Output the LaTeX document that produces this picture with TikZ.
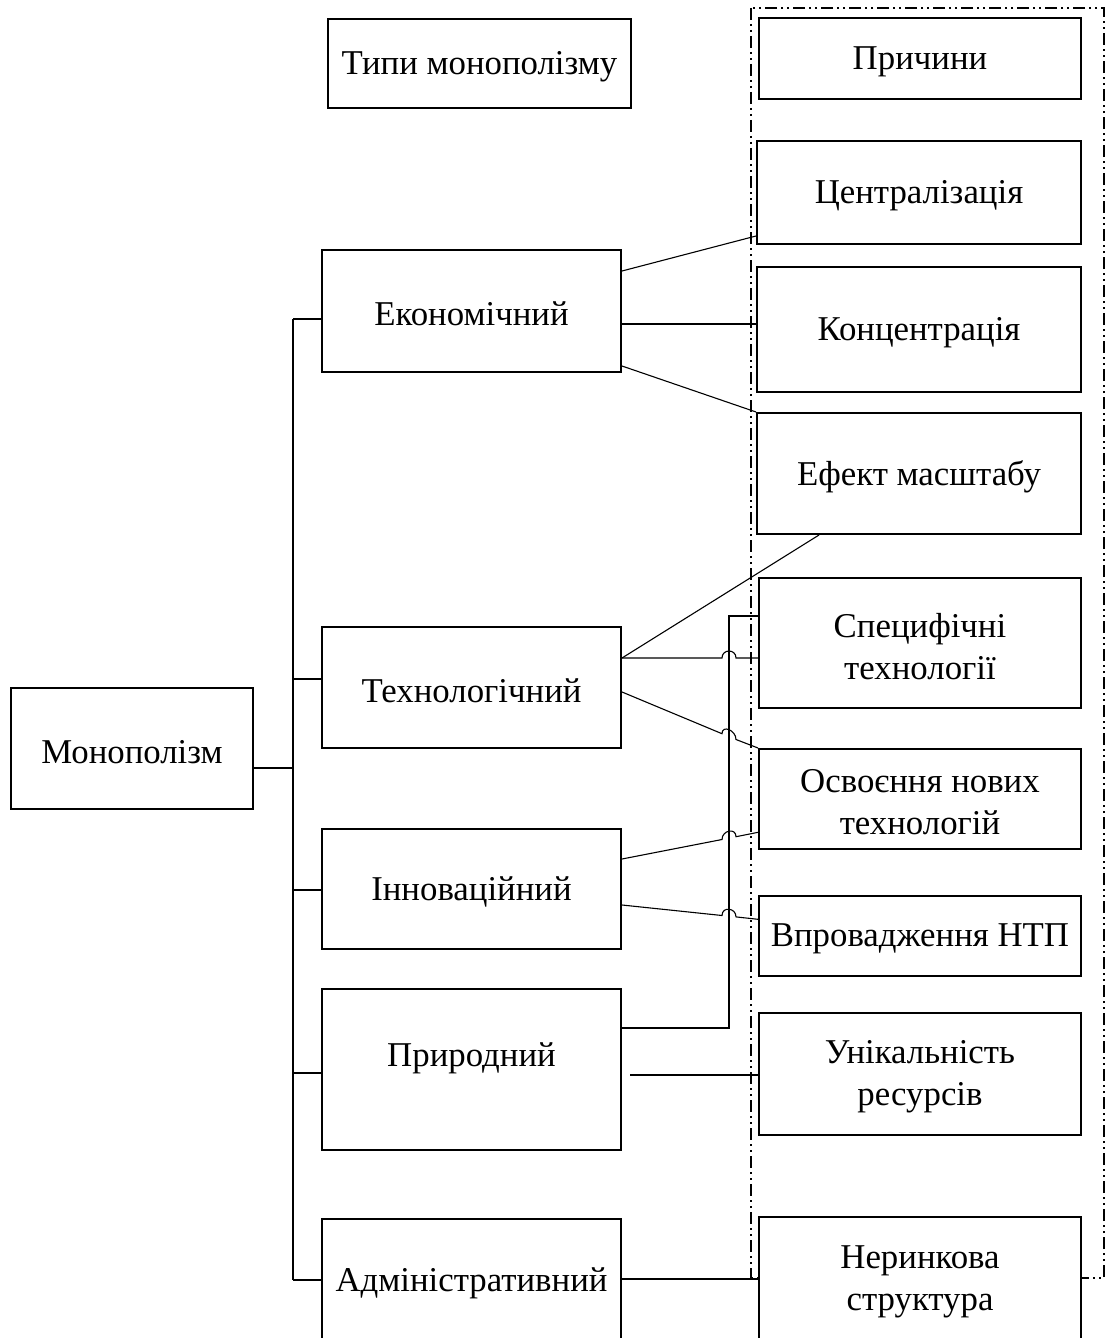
\documentclass[tikz,border=0pt]{standalone}
\usepackage{fontspec}
\setmainfont{Liberation Serif}
\newcommand\boxfont{\fontsize{17.4}{21}\selectfont}
% caption of a box, set a little below its geometric centre
\newcommand\boxtext[2]{\node[lbl] (#1-t) at ([yshift=-1.6pt]#1.center) {#2};}
\begin{document}
\begin{tikzpicture}[x=0.5pt,y=-0.5pt,
  box/.style args={#1x#2}{draw, line width=1pt, fill=white,
    minimum width=#1*0.5pt, minimum height=#2*0.5pt, inner sep=0pt},
  lbl/.style={inner sep=0pt, align=center, font=\boxfont},
  wire/.style={line width=0.55pt},
  bus/.style={line width=0.9pt},
  frame/.style={line width=0.6pt, dash pattern=on 6pt off 2pt on 1pt off 2pt on 1pt off 2pt}]
\useasboundingbox (0,0) rectangle (1105,1338);
\clip (0,0) rectangle (1105,1338);

% group frame around the causes column
\draw[frame] (751,8) rectangle (1104,1278);

% headers
\node[box=303x89] (types) at (479.5,63.5) {};
\node[box=322x81] (prich) at (920,59) {};

% causes
\node[box=324x103] (central)  at (919,192.5) {};
\node[box=324x125] (concentr) at (919,329)   {};
\node[box=324x121] (efekt)    at (919,473.5) {};
\node[box=322x130] (spec)     at (920,643)   {};
\node[box=322x100] (osv)      at (920,799)   {};
\node[box=322x80]  (vprov)    at (920,936)   {};
\node[box=322x122] (unik)     at (920,1074)  {};
\node[box=322x123] (neryn)    at (920,1278.5){};

% types
\node[box=299x122] (eco)  at (471.5,311)    {};
\node[box=299x121] (tech) at (471.5,687.5)  {};
\node[box=299x120] (inno) at (471.5,889)    {};
\node[box=299x161] (prir) at (471.5,1069.5) {};
\node[box=299x122] (adm)  at (471.5,1280)   {};
\node[box=242x121] (mono) at (132,748.5)    {};

% captions
\boxtext{types}{Типи монополізму}
\boxtext{prich}{Причини}
\boxtext{central}{Централізація}
\boxtext{concentr}{Концентрація}
\boxtext{efekt}{Ефект масштабу}
\boxtext{spec}{Специфічні\\технології}
\boxtext{osv}{Освоєння нових\\технологій}
\boxtext{vprov}{Впровадження НТП}
\boxtext{unik}{Унікальність\\ресурсів}
\boxtext{neryn}{Неринкова\\структура}
\boxtext{eco}{Економічний}
\boxtext{tech}{Технологічний}
\boxtext{inno}{Інноваційний}
\node[lbl] (prir-t) at (471.5,1058) {Природний};
\boxtext{adm}{Адміністративний}
\boxtext{mono}{Монополізм}

% trunk from the root to the types
\coordinate (bustop) at (293,319);
\coordinate (busbot) at (293,1280);
\draw[bus] (bustop) -- (busbot);
\draw[wire] (mono.east |- 0,768) -- (bustop |- 0,768);
\draw[wire] (bustop) -- (eco.west |- bustop);
\draw[wire] (bustop |- 0,679) -- (tech.west |- 0,679);
\draw[wire] (bustop |- 0,890) -- (inno.west |- 0,890);
\draw[wire] (bustop |- 0,1073) -- (prir.west |- 0,1073);
\draw[wire] (busbot) -- (adm.west |- busbot);

% economic
\draw[wire] (eco.east |- 0,271) -- (central.west |- 0,236);
\draw[wire] (eco.east |- 0,324) -- (concentr.west |- 0,324);
\draw[wire] (eco.east |- 0,366) -- (efekt.north west);

% natural (drawn before the crossings so the hops sit over it)
\draw[wire] (prir.east |- 0,1028) -| (729,616) -- (spec.west |- 0,616);
\draw[wire] ([xshift=4pt]prir.east |- 0,1075) -- (unik.west |- 0,1075);

% technological
\draw[wire] (tech.east |- 0,658) -- (efekt.south west -| 819,0);
\draw[wire] (tech.east |- 0,658) -- (722,658)
  .. controls (722,648.7) and (736,648.7) .. (736,658) -- (spec.west |- 0,658);
\draw[wire] (tech.east |- 0,692) -- (722,733.7)
  .. controls (722,724.4) and (736,730.2) .. (736,739.5) -- (osv.north west);

% innovative
\draw[wire] (inno.east |- 0,859) -- (722,839.5)
  .. controls (722,830.2) and (736,827.4) .. (736,836.7) -- (osv.west |- 0,832.3);
\draw[wire] (inno.east |- 0,905) -- (722,915.5)
  .. controls (722,906.2) and (736,907.6) .. (736,916.9) -- (vprov.west |- 0,919.3);

% administrative
\draw[wire] (adm.east |- 0,1279) -- (neryn.west |- 0,1279);
\end{tikzpicture}
\end{document}
